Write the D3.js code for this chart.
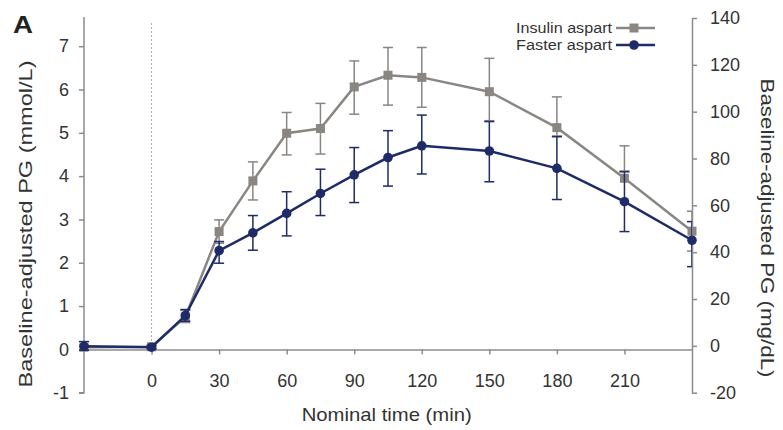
<!DOCTYPE html>
<html><head><meta charset="utf-8">
<script src="https://cdn.jsdelivr.net/npm/d3@7/dist/d3.min.js"></script>
<style>
body{margin:0;background:#fff;}
svg{display:block;font-family:"Liberation Sans",Arial,sans-serif;}
</style></head>
<body>
<svg id="chart" width="783" height="430"></svg>
<script>
// Data (mmol/L)
const times = [-30, 0, 15, 30, 45, 60, 75, 90, 105, 120, 150, 180, 210, 240];
const aspartMean = [0.05, 0.06, 0.75, 2.72, 3.89, 4.99, 5.10, 6.06, 6.33, 6.28, 5.95, 5.12, 3.95, 2.73];
const aspartHi   = [0.10, 0.10, 0.90, 2.99, 4.33, 5.47, 5.68, 6.66, 6.97, 6.97, 6.72, 5.83, 4.70, 3.19];
const aspartLo   = [0.00, 0.02, 0.62, 2.45, 3.45, 4.49, 4.51, 5.43, 5.64, 5.59, 5.28, 4.93, 4.12, 2.27];
const fasterMean = [0.07, 0.05, 0.78, 2.28, 2.69, 3.14, 3.60, 4.03, 4.43, 4.70, 4.58, 4.18, 3.41, 2.52];
const fasterHi   = [0.18, 0.09, 0.92, 2.49, 3.09, 3.64, 4.16, 4.66, 5.05, 5.41, 5.26, 4.91, 4.10, 2.95];
const fasterLo   = [-0.02, 0.01, 0.65, 1.99, 2.29, 2.62, 3.09, 3.39, 3.77, 4.05, 3.87, 3.46, 2.72, 1.91];
const xTicks = [0, 30, 60, 90, 120, 150, 180, 210];
const yLeftTicks = [-1, 0, 1, 2, 3, 4, 5, 6, 7];
const yRightTicks = [-20, 0, 20, 40, 60, 80, 100, 120, 140];
const seriesNames = ["Insulin aspart", "Faster aspart"];

const GRAY = "#8a8682", NAVY = "#1e2b68", AXIS = "#8c8c8c", TXT = "#333";

const svg = d3.select("#chart");
const x = d3.scaleLinear().domain([-30, 240]).range([84, 692]);
const yL = d3.scaleLinear().domain([-1, 7]).range([392.7, 46.2]);
const yR = d3.scaleLinear().domain([-20, 140]).range([392.7, 18]);
const fmt = d => String(d);

svg.append("defs").append("clipPath").attr("id", "plotclip")
  .append("rect").attr("x", 70).attr("y", 0).attr("width", x(240) - 70).attr("height", 430);

// dotted line at time 0
svg.append("line").attr("x1", x(0)).attr("x2", x(0))
  .attr("y1", 23).attr("y2", yL(0))
  .attr("stroke", "#aaa").attr("stroke-width", 1).attr("stroke-dasharray", "2,2");

function styleAxis(g){
  g.select(".domain").attr("stroke", AXIS).attr("stroke-width", 1.5);
  g.selectAll(".tick line").attr("stroke", AXIS).attr("stroke-width", 1.5);
  g.selectAll(".tick text").attr("fill", TXT).attr("font-size", 18);
}

// left axis
const gL = svg.append("g").attr("transform", `translate(${x(-30)},0)`)
  .call(d3.axisLeft(yL).tickValues(yLeftTicks).tickSize(5).tickPadding(10).tickSizeOuter(0).tickFormat(fmt));
styleAxis(gL);
gL.select(".domain").attr("d", `M0,17V${yL(-1)}H-5`);

// right axis
const gR = svg.append("g").attr("transform", `translate(${x(240)},0)`)
  .call(d3.axisRight(yR).tickValues(yRightTicks).tickSize(5).tickPadding(13).tickSizeOuter(0).tickFormat(fmt));
styleAxis(gR);

// x axis
const gX = svg.append("g").attr("transform", `translate(0,${yL(0)})`)
  .call(d3.axisBottom(x).tickValues(xTicks).tickSize(5).tickPadding(20).tickSizeOuter(0).tickFormat(fmt));
styleAxis(gX);

// axis titles
svg.append("text").attr("transform", `translate(32,224) rotate(-90)`)
  .attr("text-anchor", "middle").attr("font-size", 19).attr("fill", TXT)
  .attr("textLength", 327).attr("lengthAdjust", "spacingAndGlyphs")
  .text("Baseline-adjusted PG (mmol/L)");
svg.append("text").attr("transform", `translate(761,228) rotate(90)`)
  .attr("text-anchor", "middle").attr("font-size", 19).attr("fill", TXT)
  .attr("textLength", 299).attr("lengthAdjust", "spacingAndGlyphs")
  .text("Baseline-adjusted PG (mg/dL)");
svg.append("text").attr("x", 386.7).attr("y", 421)
  .attr("text-anchor", "middle").attr("font-size", 18.5).attr("fill", TXT)
  .attr("textLength", 170).attr("lengthAdjust", "spacingAndGlyphs")
  .text("Nominal time (min)");
svg.append("text").attr("transform", "translate(13,33) scale(1.2,1)")
  .attr("font-size", 23).attr("font-weight", "bold").attr("fill", "#222").text("A");

// series
const series = [
  {name: seriesNames[0], mean: aspartMean, hi: aspartHi, lo: aspartLo, color: GRAY, shape: "square"},
  {name: seriesNames[1], mean: fasterMean, hi: fasterHi, lo: fasterLo, color: NAVY, shape: "circle"}
];

const line = d3.line().x(d => x(d.t)).y(d => yL(d.v));

series.forEach(s => {
  const pts = times.map((t, i) => ({t, v: s.mean[i], hi: s.hi[i], lo: s.lo[i]}));
  const g = svg.append("g");
  // error bars
  const eb = g.append("g").attr("clip-path", "url(#plotclip)")
    .selectAll("g.eb").data(pts).join("g").attr("stroke", s.color).attr("stroke-width", 1.5);
  eb.append("line").attr("x1", d => x(d.t)).attr("x2", d => x(d.t))
    .attr("y1", d => yL(d.hi)).attr("y2", d => yL(d.lo));
  eb.append("line").attr("x1", d => x(d.t) - 5).attr("x2", d => x(d.t) + 5)
    .attr("y1", d => yL(d.hi)).attr("y2", d => yL(d.hi));
  eb.append("line").attr("x1", d => x(d.t) - 5).attr("x2", d => x(d.t) + 5)
    .attr("y1", d => yL(d.lo)).attr("y2", d => yL(d.lo));
  g.append("path").datum(pts).attr("d", line).attr("fill", "none")
    .attr("stroke", s.color).attr("stroke-width", 2.5);
  if (s.shape === "square") {
    g.selectAll("rect").data(pts).join("rect")
      .attr("x", d => x(d.t) - 4.5).attr("y", d => yL(d.v) - 4.5)
      .attr("width", 9).attr("height", 9).attr("fill", s.color);
  } else {
    g.selectAll("circle").data(pts).join("circle")
      .attr("cx", d => x(d.t)).attr("cy", d => yL(d.v)).attr("r", 4.8).attr("fill", s.color);
  }
});

// legend
const leg = svg.append("g");
series.forEach((s, i) => {
  const ly = 28 + i * 17;
  leg.append("text").attr("x", 612).attr("y", ly + 5).attr("text-anchor", "end")
    .attr("font-size", 14).attr("fill", TXT)
    .attr("textLength", 96).attr("lengthAdjust", "spacingAndGlyphs").text(s.name);
  leg.append("line").attr("x1", 616).attr("x2", 655).attr("y1", ly).attr("y2", ly)
    .attr("stroke", s.color).attr("stroke-width", 2.5);
  if (s.shape === "square") {
    leg.append("rect").attr("x", 634 - 4.5).attr("y", ly - 4.5).attr("width", 9).attr("height", 9).attr("fill", s.color);
  } else {
    leg.append("circle").attr("cx", 634).attr("cy", ly).attr("r", 4.8).attr("fill", s.color);
  }
});
</script>
</body></html>
